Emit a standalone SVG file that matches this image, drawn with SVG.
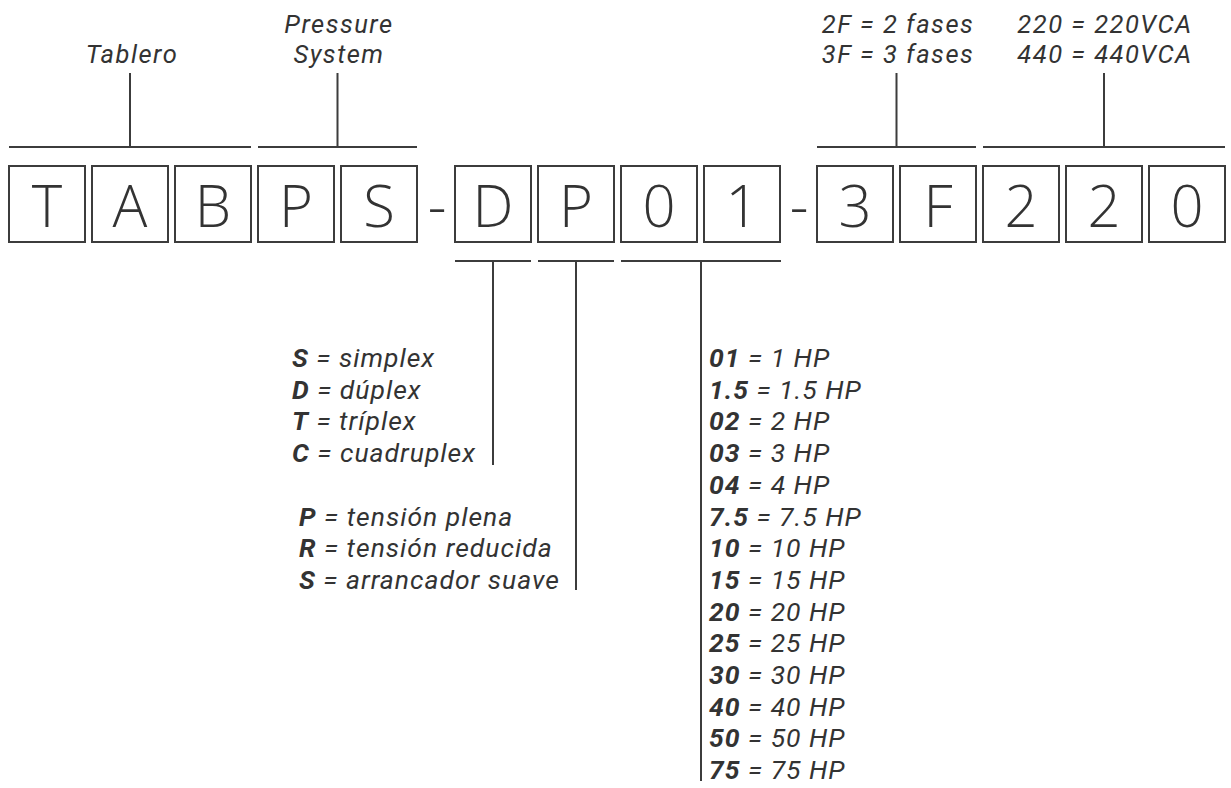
<svg xmlns="http://www.w3.org/2000/svg" width="1231" height="788" viewBox="0 0 1231 788">
<style>
.box rect{fill:#fff;stroke:#3c3c3c;stroke-width:2}
.box text,.dash{font-family:"Open Sans","Noto Sans",sans-serif;font-size:58px;font-weight:300;fill:#333;text-anchor:middle}
.lbl{font-family:Roboto,"Open Sans",sans-serif;font-style:italic;font-size:25.5px;letter-spacing:1.5px;fill:#333;text-anchor:middle}
.lst{font-family:Roboto,"Open Sans",sans-serif;font-style:italic;font-size:26.5px;letter-spacing:1px;fill:#333}
.b{font-weight:bold}
.ln{stroke:#3c3c3c;stroke-width:2;fill:none}
</style>
<rect width="1231" height="788" fill="#fff"/>
<g id="boxes">
<g id="box-T" class="box"><rect x="9" y="166" width="76" height="76"/><text x="47" y="227">T</text></g>
<g id="box-A" class="box"><rect x="92" y="166" width="76" height="76"/><text x="130" y="227">A</text></g>
<g id="box-B" class="box"><rect x="175" y="166" width="76" height="76"/><text x="213" y="227">B</text></g>
<g id="box-P1" class="box"><rect x="258" y="166" width="76" height="76"/><text x="296" y="227">P</text></g>
<g id="box-S" class="box"><rect x="341" y="166" width="76" height="76"/><text x="379" y="227">S</text></g>
<text class="dash" x="437" y="227">-</text>
<g id="box-D" class="box"><rect x="455" y="166" width="76" height="76"/><text x="493" y="227">D</text></g>
<g id="box-P2" class="box"><rect x="538" y="166" width="76" height="76"/><text x="576" y="227">P</text></g>
<g id="box-0a" class="box"><rect x="621" y="166" width="76" height="76"/><text x="659" y="227">0</text></g>
<g id="box-1" class="box"><rect x="704" y="166" width="76" height="76"/><text x="742" y="227">1</text></g>
<text class="dash" x="799" y="227">-</text>
<g id="box-3" class="box"><rect x="817" y="166" width="76" height="76"/><text x="855" y="227">3</text></g>
<g id="box-F" class="box"><rect x="900" y="166" width="76" height="76"/><text x="938" y="227">F</text></g>
<g id="box-2a" class="box"><rect x="983" y="166" width="76" height="76"/><text x="1021" y="227">2</text></g>
<g id="box-2b" class="box"><rect x="1066" y="166" width="76" height="76"/><text x="1104" y="227">2</text></g>
<g id="box-0b" class="box"><rect x="1149" y="166" width="76" height="76"/><text x="1187" y="227">0</text></g>
</g>
<g id="connectors" class="ln">
<path d="M9 147H251M130 147V73"/>
<path d="M258 147H417M337.5 147V73"/>
<path d="M817 147H976M896.5 147V73"/>
<path d="M983 147H1225M1104 147V73"/>
<path d="M455 261H531M493 261V465"/>
<path d="M538 261H614M576 261V590"/>
<path d="M621 261H781M701 261V781"/>
</g>
<g id="label-tablero"><text class="lbl" x="132" y="63">Tablero</text></g>
<g id="label-pressure"><text class="lbl" x="339" y="33">Pressure</text><text class="lbl" x="339" y="63">System</text></g>
<g id="label-fases"><text class="lbl" x="898" y="33">2F = 2 fases</text><text class="lbl" x="898" y="63">3F = 3 fases</text></g>
<g id="label-volt"><text class="lbl" x="1105" y="33">220 = 220VCA</text><text class="lbl" x="1105" y="63">440 = 440VCA</text></g>
<g id="list-tipo" class="lst">
<text x="292" y="367"><tspan class="b">S</tspan> = simplex</text>
<text x="292" y="398.7"><tspan class="b">D</tspan> = dúplex</text>
<text x="292" y="430.4"><tspan class="b">T</tspan> = tríplex</text>
<text x="292" y="462.1"><tspan class="b">C</tspan> = cuadruplex</text>
</g>
<g id="list-arranque" class="lst">
<text x="299" y="525.5"><tspan class="b">P</tspan> = tensión plena</text>
<text x="299" y="557.2"><tspan class="b">R</tspan> = tensión reducida</text>
<text x="299" y="588.9"><tspan class="b">S</tspan> = arrancador suave</text>
</g>
<g id="list-hp" class="lst">
<text x="709" y="367"><tspan class="b">01</tspan> = 1 HP</text>
<text x="709" y="398.7"><tspan class="b">1.5</tspan> = 1.5 HP</text>
<text x="709" y="430.4"><tspan class="b">02</tspan> = 2 HP</text>
<text x="709" y="462.1"><tspan class="b">03</tspan> = 3 HP</text>
<text x="709" y="493.8"><tspan class="b">04</tspan> = 4 HP</text>
<text x="709" y="525.5"><tspan class="b">7.5</tspan> = 7.5 HP</text>
<text x="709" y="557.2"><tspan class="b">10</tspan> = 10 HP</text>
<text x="709" y="588.9"><tspan class="b">15</tspan> = 15 HP</text>
<text x="709" y="620.6"><tspan class="b">20</tspan> = 20 HP</text>
<text x="709" y="652.3"><tspan class="b">25</tspan> = 25 HP</text>
<text x="709" y="684"><tspan class="b">30</tspan> = 30 HP</text>
<text x="709" y="715.7"><tspan class="b">40</tspan> = 40 HP</text>
<text x="709" y="747.4"><tspan class="b">50</tspan> = 50 HP</text>
<text x="709" y="779.1"><tspan class="b">75</tspan> = 75 HP</text>
</g>
</svg>
